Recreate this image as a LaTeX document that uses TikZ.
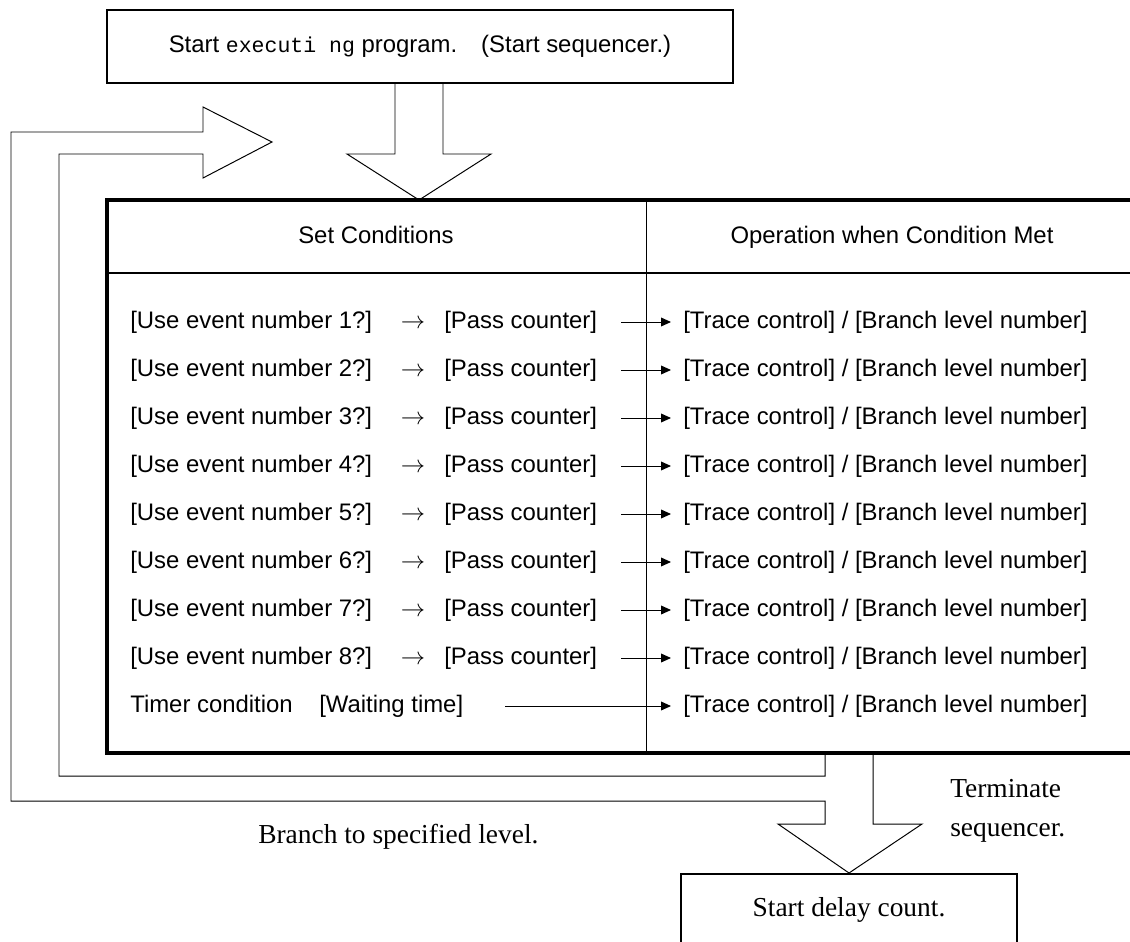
\documentclass[tikz,border=0pt]{standalone}
\usepackage{fontspec}
\setmainfont{Liberation Sans}
\newfontfamily\seriffont{Liberation Serif}
\newfontfamily\typefont{Liberation Mono}[Scale=0.9]
\usetikzlibrary{arrows.meta}

\begin{document}
\begin{tikzpicture}[x=0.025cm, y=-0.025cm,
      every node/.style={inner sep=0pt, font=\fontsize{17}{20}\selectfont},
      box/.style={draw, line width=1.4pt, align=center},
      tablebox/.style={draw, line width=2.8pt, minimum width=25.775cm, minimum height=13.825cm},
      label/.style={text height=12.5pt, text depth=3.5pt},
      cell/.style={label, anchor=west},
      note/.style={font=\seriffont\fontsize{19.5}{28}\selectfont},
      blockarrow/.style={line width=0.7pt, line join=miter},
      flow/.style={line width=0.7pt, -{Triangle[length=0.25cm, width=0.22cm]}}]
      \useasboundingbox (0,0) rectangle (1130,941);

      % top and bottom boxes
      \node[box, minimum width=15.65cm, minimum height=1.825cm] (start) at (420,46.5)
        {Start {\typefont executi ng} program.\hspace{1em}(Start sequencer.)};
      \node[box, note, minimum width=8.4cm, minimum height=1.8cm, anchor=north] (delay) at (849,873)
        {Start delay count.};

      % table
      \node[tablebox] (tbl) at (622.5,476.5) {};
      \draw[line width=2.1pt] (107,273) -- (1138,273);
      \draw[line width=0.7pt] (646,200) -- (646,753);
      \node[label] (setc) at (376,237) {Set Conditions};
      \node[label] (opmet) at (892,237) {Operation when Condition Met};

      \foreach \i in {1,...,8}{
        \node[cell] (ev\i) at (130,274+48*\i) {[Use event number \i?]};
        \node[label] (to\i) at (413,274+48*\i) {$\rightarrow$};
        \node[cell] (pc\i) at (444,274+48*\i) {[Pass counter]};
        \node[cell] (op\i) at (683,274+48*\i) {[Trace control] / [Branch level number]};
        \draw[flow, shorten <=0.6cm, shorten >=0.3cm] (pc\i) -- (op\i);
      }
      \node[cell] (tmr) at (130,706) {Timer condition};
      \node[cell] (wait) at (319,706) {[Waiting time]};
      \node[cell] (op9) at (683,706) {[Trace control] / [Branch level number]};
      \draw[flow, shorten <=1.05cm, shorten >=0.3cm] (wait) -- (op9);

      % block arrows
      \draw[blockarrow] (395,83) -- (395,154) -- (347,154) -- (419,200) -- (491,154) -- (443,154) -- (443,83);
      \draw[blockarrow] (825,753) -- (825,776) -- (59,776) -- (59,154) -- (203,154) -- (203,178)
        -- (272,142) -- (203,107) -- (203,132) -- (11,132) -- (11,801) -- (825,801) -- (825,824)
        -- (778,824) -- (849,873) -- (922,824) -- (873,824) -- (873,753);

      \node[note, anchor=west] (branch) at (258,837) {Branch to specified level.};
      \node[note, anchor=west, align=left] (term) at (950,811) {Terminate\\sequencer.};
    \end{tikzpicture}
\end{document}
